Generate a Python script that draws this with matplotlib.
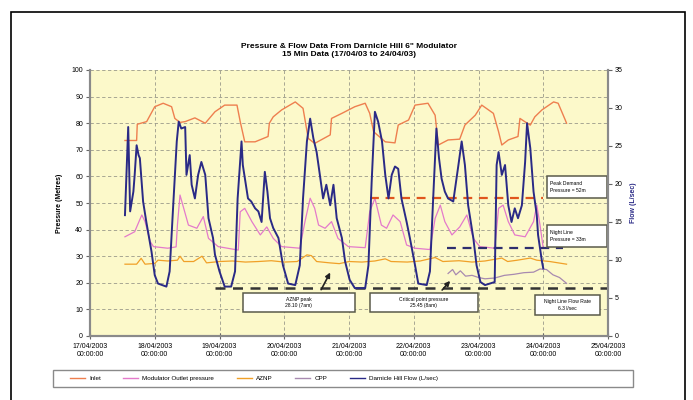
from datetime import datetime

import matplotlib

matplotlib.use("Agg")
import matplotlib.dates as mdates
import matplotlib.pyplot as plt
import numpy as np
from matplotlib.lines import Line2D
from matplotlib.patches import Rectangle

plt.rcParams["font.family"] = ["Liberation Sans", "DejaVu Sans"]

# time axis: days after 17/04/2003 00:00
start = datetime(2003, 4, 17)

inlet_t = [0.54, 0.72, 0.73, 0.875, 1.0, 1.13, 1.26, 1.31, 1.39, 1.47, 1.62, 1.78, 1.93,
           2.08, 2.27, 2.32, 2.39, 2.55, 2.75, 2.77, 2.83, 2.96, 3.17, 3.29, 3.37, 3.47,
           3.71, 3.73, 3.89, 4.09, 4.25, 4.32, 4.38, 4.56, 4.71, 4.76, 4.92, 5.02, 5.22,
           5.33, 5.38, 5.53, 5.71, 5.79, 5.95, 6.05, 6.23, 6.31, 6.36, 6.46, 6.61, 6.64,
           6.72, 6.8, 6.87, 6.98, 7.16, 7.23, 7.34, 7.36]
inlet_p = [73.5, 73.5, 79.6, 80.6, 86.2, 87.5, 86.2, 81.8, 80.3, 80.6, 82.0, 80.0, 84.3,
           86.8, 86.8, 80.6, 73.0, 73.0, 75.0, 80.0, 82.4, 85.0, 88.0, 85.6, 74.3, 72.4,
           75.6, 81.8, 83.7, 86.2, 87.5, 83.7, 76.8, 73.0, 72.6, 79.3, 81.2, 86.8, 87.5,
           83.0, 71.8, 73.7, 74.0, 79.3, 83.0, 86.8, 83.7, 76.8, 71.8, 73.7, 75.0, 81.8,
           80.5, 79.3, 82.4, 85.0, 88.0, 87.5, 81.2, 80.0]

outlet_t = [0.54, 0.69, 0.8, 0.85, 0.93, 0.98, 1.2, 1.33, 1.35, 1.39, 1.52, 1.65, 1.75,
            1.83, 1.98, 2.29, 2.32, 2.39, 2.5, 2.63, 2.73, 2.83, 2.96, 3.24, 3.32, 3.4,
            3.47, 3.53, 3.63, 3.73, 3.83, 3.99, 4.25, 4.32, 4.4, 4.5, 4.58, 4.68, 4.79,
            4.89, 5.02, 5.25, 5.33, 5.41, 5.48, 5.59, 5.71, 5.82, 5.92, 6.02, 6.25, 6.31,
            6.38, 6.46, 6.56, 6.72, 6.85, 6.9, 6.95, 7.0]
outlet_p = [37.3, 39.2, 45.5, 43.0, 35.5, 33.6, 33.0, 33.5, 41.7, 53.0, 41.7, 40.5, 44.9,
            36.7, 33.6, 32.3, 46.7, 48.0, 43.0, 38.0, 41.0, 36.7, 33.6, 33.0, 43.0, 51.8,
            48.0, 41.7, 40.5, 43.0, 36.7, 33.6, 33.2, 46.7, 51.8, 41.7, 40.5, 45.5, 43.0,
            34.2, 33.0, 32.5, 44.2, 49.2, 43.0, 38.0, 41.0, 45.5, 36.7, 33.6, 33.0, 48.0,
            49.2, 43.0, 38.0, 37.3, 43.0, 49.2, 41.7, 33.0]

aznp_t = [0.54, 0.72, 0.79, 0.85, 1.0, 1.05, 1.2, 1.35, 1.39, 1.45, 1.6, 1.73, 1.8, 2.0,
          2.2, 2.4, 2.6, 2.8, 3.0, 3.2, 3.35, 3.42, 3.5, 3.7, 3.85, 4.0, 4.2, 4.4, 4.56,
          4.65, 4.9, 5.1, 5.33, 5.45, 5.7, 5.9, 6.1, 6.36, 6.45, 6.6, 6.8, 6.9, 7.1, 7.36]
aznp_p = [27.0, 27.0, 29.2, 27.0, 27.3, 28.5, 28.2, 28.5, 30.0, 28.0, 28.0, 30.0, 27.5, 28.0,
          28.2, 27.8, 28.0, 28.3, 27.8, 28.0, 30.5, 30.2, 28.0, 27.5, 27.2, 28.0, 27.8, 28.2,
          29.0, 28.0, 27.8, 28.2, 29.5, 28.0, 28.3, 27.8, 28.2, 29.3, 28.0, 28.5, 29.3, 28.5,
          28.0, 27.0]

cpp_t = [5.53, 5.6, 5.65, 5.72, 5.8, 5.9, 6.0, 6.1, 6.25, 6.4, 6.55, 6.7, 6.85, 6.95,
         7.05, 7.15, 7.25, 7.36]
cpp_p = [23.5, 25.0, 23.0, 24.5, 22.5, 22.8, 22.0, 21.5, 21.8, 22.8, 23.2, 23.8, 24.0, 25.2,
         25.0, 23.0, 22.0, 19.8]

flow_t = [0.54, 0.59, 0.62, 0.67, 0.69, 0.72, 0.75, 0.77, 0.82, 0.87, 0.95, 1.0, 1.05,
          1.18, 1.23, 1.28, 1.34, 1.37, 1.41, 1.47, 1.49, 1.54, 1.57, 1.62, 1.67, 1.72,
          1.78, 1.83, 1.9, 1.93, 2.0, 2.08, 2.18, 2.24, 2.28, 2.34, 2.36, 2.4, 2.44, 2.49,
          2.55, 2.6, 2.65, 2.7, 2.74, 2.78, 2.83, 2.91, 2.98, 3.06, 3.17, 3.24, 3.29, 3.35,
          3.4, 3.45, 3.5, 3.55, 3.6, 3.65, 3.71, 3.76, 3.81, 3.89, 3.94, 4.01, 4.09, 4.25,
          4.3, 4.35, 4.4, 4.45, 4.51, 4.56, 4.61, 4.66, 4.71, 4.76, 4.81, 4.89, 4.94, 5.02,
          5.07, 5.2, 5.25, 5.3, 5.35, 5.39, 5.43, 5.48, 5.53, 5.61, 5.69, 5.74, 5.79, 5.84,
          5.92, 5.97, 6.03, 6.1, 6.25, 6.28, 6.31, 6.36, 6.41, 6.46, 6.51, 6.56, 6.61, 6.67,
          6.72, 6.75, 6.8, 6.85, 6.9, 6.92, 6.98, 7.0]
flow_q = [15.9, 27.5, 16.4, 19.0, 21.2, 25.1, 23.8, 23.4, 17.7, 15.0, 11.1, 8.0, 6.9,
          6.5, 8.5, 16.4, 25.6, 28.2, 27.3, 27.5, 21.2, 23.8, 19.9, 18.1, 21.2, 22.9,
          21.2, 15.5, 12.9, 10.7, 8.5, 6.5, 6.5, 8.5, 18.1, 25.6, 22.5, 20.3, 18.1, 17.7,
          16.8, 16.4, 15.0, 21.6, 19.0, 15.5, 14.2, 12.9, 9.3, 6.9, 6.7, 9.3, 18.1, 25.6,
          28.6, 26.0, 24.2, 21.2, 18.1, 19.9, 17.2, 19.9, 15.5, 12.9, 9.8, 7.4, 6.3, 6.3,
          9.3, 20.3, 29.5, 28.2, 25.6, 21.2, 18.1, 21.2, 22.3, 22.0, 18.1, 15.0, 12.9, 9.3,
          6.9, 6.7, 8.5, 18.1, 27.3, 23.4, 20.7, 19.0, 18.1, 17.7, 22.5, 25.6, 22.5, 17.2,
          12.9, 9.3, 7.1, 6.7, 7.1, 22.5, 24.2, 21.2, 22.5, 17.2, 15.0, 16.8, 15.5, 17.2,
          22.9, 28.0, 24.7, 19.0, 15.9, 13.3, 9.8, 8.9]

# reference lines (pressure axis): level, start day, end day
peak_demand = (52, 4.32, 7.0)
night_pressure = (33, 5.52, 7.3)
night_flow = (18, 1.93, 8.0)

legend_labels = ["Inlet", "Modulator Outlet pressure", "AZNP", "CPP",
                 "Darnicle Hill Flow (L/sec)"]

t0 = mdates.date2num(start)


def days(values):
    return t0 + np.asarray(values)


fig = plt.figure(figsize=(6.93, 4.0), dpi=100)
ax = fig.add_axes([90 / 693, 64 / 400, 518 / 693, 266 / 400])
ax.set_facecolor("#FCF9CA")
ax2 = ax.twinx()

c_inlet, c_outlet, c_aznp, c_cpp, c_flow = "#EE7F4F", "#E47ACB", "#F0A028", "#A88AB0", "#2A2A86"

ax.plot(days(aznp_t), aznp_p, color=c_aznp, lw=0.9)
ax.plot(days(cpp_t), cpp_p, color=c_cpp, lw=0.9)
ax.plot(days(inlet_t), inlet_p, color=c_inlet, lw=1.0)
ax.plot(days(outlet_t), outlet_p, color=c_outlet, lw=0.9)
ax2.plot(days(flow_t), flow_q, color=c_flow, lw=1.4)

ax.hlines(peak_demand[0], days(peak_demand[1]), days(peak_demand[2]), color="#E0561E",
          lw=1.6, linestyles=(0, (4, 3)), zorder=4)
ax.hlines(night_pressure[0], days(night_pressure[1]), days(night_pressure[2]), color="#2E2E6E",
          lw=1.6, linestyles=(0, (4, 3)), zorder=4)
ax.hlines(night_flow[0], days(night_flow[1]), days(night_flow[2]), color="#333333",
          lw=1.8, linestyles=(0, (4, 3)), zorder=4)

ax.set_xlim(t0, t0 + 8)
ax.set_ylim(0, 100)
ax2.set_ylim(0, 35)
ax.set_yticks(np.arange(0, 101, 10))
ax2.set_yticks(np.arange(0, 36, 5))
ax.xaxis.set_major_locator(mdates.DayLocator())
ax.xaxis.set_major_formatter(mdates.DateFormatter("%d/%m/%Y\n%H:%M:%S"))

ax.grid(True, color="#9A9A8A", lw=0.6, linestyle=(0, (4, 3)))
for a in (ax, ax2):
    for side in ("left", "right", "bottom"):
        a.spines[side].set_color("#8A8A8A")
        a.spines[side].set_linewidth(1.5)
    a.spines["top"].set_visible(False)
ax.tick_params(labelsize=5, length=3, width=0.8, color="#666666", pad=2)
ax.tick_params(axis="x", direction="inout", length=4, pad=3)
ax2.tick_params(labelsize=5, length=3, width=0.8, color="#666666", pad=2)

ax.set_ylabel("Pressure (Metres)", fontsize=5, fontweight="bold", labelpad=6)
ax2.set_ylabel("Flow (L/sec)", fontsize=5, fontweight="bold", color="#2A2A86", labelpad=5)

fig.text(349 / 693, 1 - 46 / 400, "Pressure & Flow Data From Darnicle Hill 6\" Modulator",
         ha="center", va="center", fontsize=6, fontweight="bold")
fig.text(349 / 693, 1 - 55 / 400, "15 Min Data (17/04/03 to 24/04/03)",
         ha="center", va="center", fontsize=6, fontweight="bold")

# annotation boxes (pressure-axis coordinates)
boxes = [
    (2.36, 9.0, 1.73, 7.2, "AZNP peak\n28.10 (7am)", "center"),
    (4.32, 9.0, 1.67, 7.2, "Critical point pressure\n25.45 (8am)", "center"),
    (7.06, 51.9, 0.92, 8.3, "Peak Demand\nPressure = 52m", "left"),
    (7.06, 33.5, 0.92, 8.2, "Night Line\nPressure = 33m", "left"),
    (6.87, 7.9, 1.01, 7.5, "Night Line Flow Rate\n6.3 l/sec", "center"),
]
for bx, by, bw, bh, text, align in boxes:
    ax.add_patch(Rectangle((days(bx), by), bw, bh, facecolor="white", edgecolor="#5A5A4A",
                           lw=1.1, zorder=6))
    tx = days(bx + bw / 2) if align == "center" else days(bx + 0.05)
    ax.text(tx, by + bh / 2, text, ha=align, va="center", fontsize=3.6, zorder=7,
            linespacing=1.3)

ax.annotate("", xy=(days(3.73), 24.8), xytext=(days(3.55), 16.5),
            arrowprops=dict(arrowstyle="-|>", color="#222222", lw=1.2, mutation_scale=7), zorder=7)
ax.annotate("", xy=(days(5.59), 21.5), xytext=(days(5.41), 16.5),
            arrowprops=dict(arrowstyle="-|>", color="#222222", lw=1.2, mutation_scale=7), zorder=7)

# outer frame and legend box
fig.add_artist(Rectangle((11 / 693, -0.05), 674 / 693, 1.02, transform=fig.transFigure,
                         fill=False, edgecolor="black", lw=1.2))
fig.add_artist(Rectangle((53 / 693, 1 - 387 / 400), 580 / 693, 17 / 400,
                         transform=fig.transFigure, facecolor="white",
                         edgecolor="#8A8A8A", lw=1.0))

handles = [Line2D([], [], color=c, lw=1.0) for c in (c_inlet, c_outlet, c_aznp, c_cpp, c_flow)]
fig.legend(handles, legend_labels, ncol=5, loc="center left",
           bbox_to_anchor=(67 / 693, 1 - 378.5 / 400), frameon=False, fontsize=4.5,
           handlelength=2.4, columnspacing=3.6, handletextpad=0.7, borderaxespad=0)

fig.savefig("out.png", dpi=100)
